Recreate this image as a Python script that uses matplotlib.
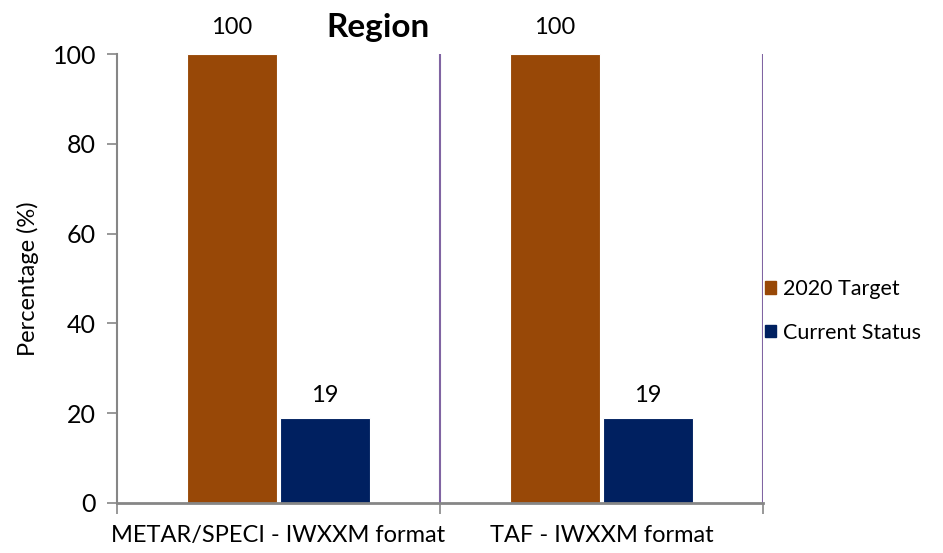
import numpy as np
import matplotlib.pyplot as plt
from matplotlib.patches import Patch

plt.rcParams['font.family'] = ['Lato', 'DejaVu Sans']

categories = ['METAR/SPECI - IWXXM format', 'TAF - IWXXM format']
target = [100, 100]
current = [19, 19]
series_names = ['2020 Target', 'Current Status']
colors = ['#984807', '#002060']

fig = plt.figure(figsize=(9.43, 5.53), dpi=100)
ax = fig.add_axes([117/943, 50/553, 646/943, 449/553])

x = np.arange(len(categories))
w = 0.279
ax.bar(x - w/2 - 0.005, target, w, color=colors[0], edgecolor='white', linewidth=0.8)
ax.bar(x + w/2 + 0.005, current, w, color=colors[1], edgecolor='white', linewidth=0.8)

for xi, v in zip(x, target):
    ax.text(xi - w/2 - 0.005, v + 3.5, str(v), ha='center', va='bottom', fontsize=17)
for xi, v in zip(x, current):
    ax.text(xi + w/2 + 0.005, v + 2.5, str(v), ha='center', va='bottom', fontsize=17)

ax.set_xlim(-0.5, len(categories) - 0.5)
ax.set_ylim(0, 100)
ax.set_yticks(range(0, 101, 20))
ax.tick_params(axis='y', labelsize=18, colors='#868686', labelcolor='black', length=7, width=1.2, pad=8)

# category boundaries as ticks, labels in the middle
ax.set_xticks(np.arange(-0.5, len(categories), 1.0))
ax.set_xticklabels([])
ax.set_xticks(x, minor=True)
ax.set_xticklabels(categories, minor=True, fontsize=17)
ax.tick_params(axis='x', which='major', length=8, width=1.2, colors='#868686')
ax.tick_params(axis='x', which='minor', length=0, pad=16)

for b in [0.5, 1.5]:
    ax.axvline(b, color='#8064A2', linewidth=1.5, zorder=0)

for s in ['top', 'right']:
    ax.spines[s].set_visible(False)
ax.spines['left'].set_color('#868686')
ax.spines['left'].set_linewidth(1.5)
ax.spines['bottom'].set_color('#868686')
ax.spines['bottom'].set_linewidth(2)

ax.set_ylabel('Percentage (%)', fontsize=17, labelpad=10)

fig.text(378/943, 1 - 27/553, 'Region', fontsize=24, fontweight='bold', ha='center', va='center')

handles = [Patch(color=c, label=n) for c, n in zip(colors, series_names)]
fig.legend(handles=handles, loc='center left', bbox_to_anchor=(750/943, 1 - 311/553),
           frameon=False, fontsize=15.5, handlelength=0.5, handleheight=0.5,
           handletextpad=0.35, labelspacing=1.1, borderpad=0.2)

fig.savefig('out.png', dpi=100)
